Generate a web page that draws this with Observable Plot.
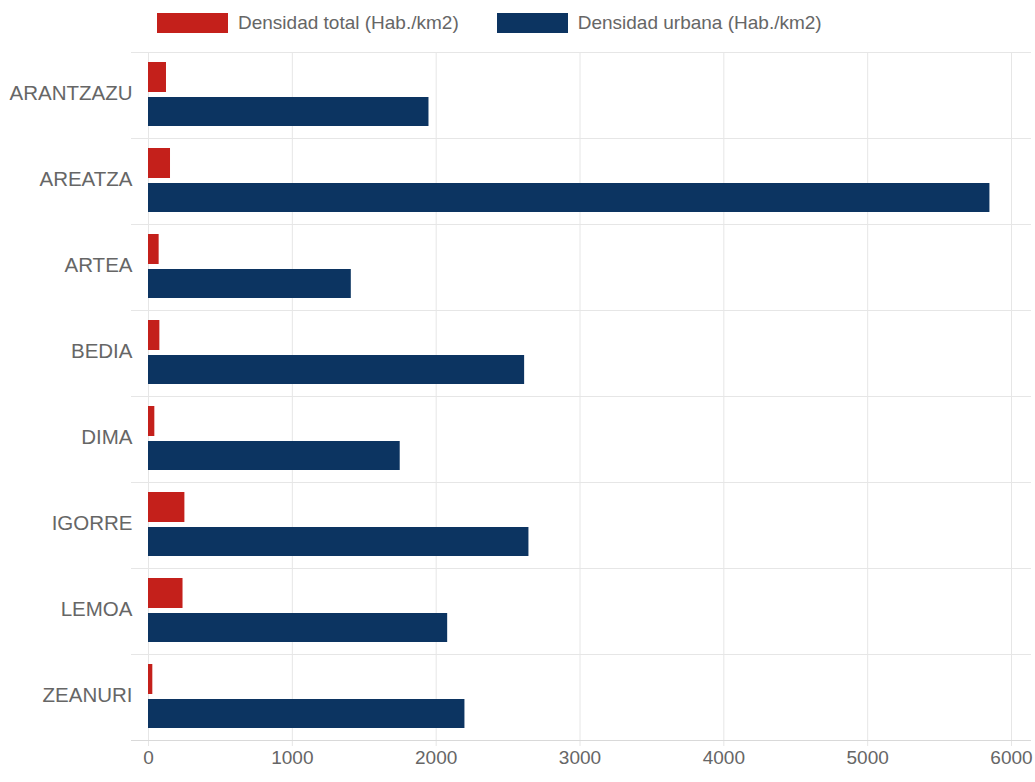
<!DOCTYPE html>
<html>
<head>
<meta charset="utf-8">
<script src="https://cdn.jsdelivr.net/npm/d3@7"></script>
<script src="https://cdn.jsdelivr.net/npm/@observablehq/plot@0.6"></script>
<style>
  html, body { margin: 0; padding: 0; background: #fff; }
  body { width: 1035px; height: 782px; overflow: hidden; font-family: "Liberation Sans", Arial, sans-serif; }
  #legend { height: 46px; display: flex; align-items: center; padding-left: 157px; box-sizing: border-box; color: #666; font-size: 19px; }
  .item { display: flex; align-items: center; margin-right: 38px; }
  .swatch { width: 71px; height: 20px; margin-right: 10px; }
</style>
</head>
<body>
<div id="legend"></div>
<div id="chart"></div>
<script>
const municipios = ["ARANTZAZU", "AREATZA", "ARTEA", "BEDIA", "DIMA", "IGORRE", "LEMOA", "ZEANURI"];
const densidadTotal = [125, 153, 74, 79, 44, 253, 240, 30];
const densidadUrbana = [1950, 5850, 1410, 2615, 1750, 2645, 2080, 2200];
const series = ["Densidad total (Hab./km2)", "Densidad urbana (Hab./km2)"];
const colores = ["#c4201b", "#0c3461"];
const xTicks = [0, 1000, 2000, 3000, 4000, 5000, 6000];

const datos = [];
municipios.forEach((m, i) => {
  datos.push({municipio: m, serie: series[0], valor: densidadTotal[i]});
  datos.push({municipio: m, serie: series[1], valor: densidadUrbana[i]});
});

// legend
const legend = document.getElementById("legend");
series.forEach((s, i) => {
  const it = document.createElement("div");
  it.className = "item";
  const sw = document.createElement("span");
  sw.className = "swatch";
  sw.style.background = colores[i];
  const tx = document.createElement("span");
  tx.textContent = s;
  it.appendChild(sw);
  it.appendChild(tx);
  legend.appendChild(it);
});

const grid = "#e6e6e6";
const chart = Plot.plot({
  width: 1035,
  height: 736,
  marginTop: 6,
  marginBottom: 42,
  marginLeft: 148,
  marginRight: 24,
  style: {fontFamily: "Liberation Sans, Arial, sans-serif", fontSize: "19px", color: "#666", background: "#fff"},
  x: {domain: [0, 6000], axis: null},
  y: {domain: municipios, padding: 0, axis: null},
  color: {domain: series, range: colores},
  marks: [
    Plot.ruleX(xTicks, {x: d => d, stroke: grid, insetBottom: -6}),
    Plot.ruleY(municipios, {y: d => d, dy: -43, stroke: grid, insetLeft: -17, insetRight: -20}),
    Plot.ruleY(municipios.slice(-1), {y: d => d, dy: 43, stroke: "#d9d9d9", insetLeft: -17, insetRight: -20}),
    Plot.barX(datos.filter(d => d.serie === series[0]), {x: "valor", y: "municipio", fill: "serie", insetTop: 10, insetBottom: 46}),
    Plot.barX(datos.filter(d => d.serie === series[1]), {x: "valor", y: "municipio", fill: "serie", insetTop: 45, insetBottom: 12}),
    Plot.axisY({tickSize: 0, tickPadding: 16, fontSize: 20.5, dy: -2, label: null}),
    Plot.axisX({ticks: xTicks, tickSize: 0, tickPadding: 10, fontSize: 19, label: null, tickFormat: d => String(d)})
  ]
});
document.getElementById("chart").appendChild(chart);
</script>
</body>
</html>
